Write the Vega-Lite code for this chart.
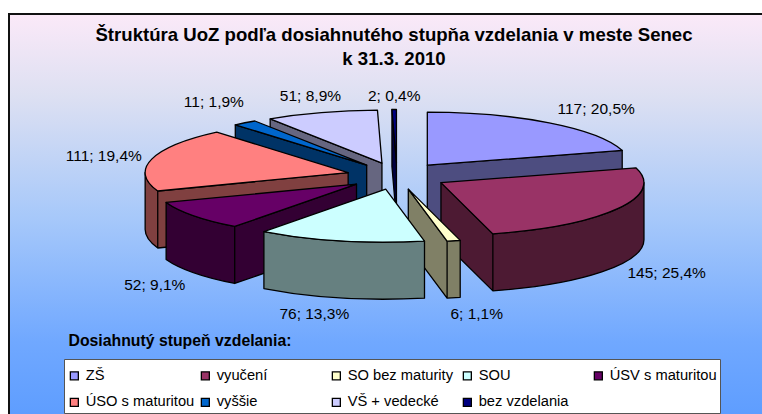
{
"$schema":"https://vega.github.io/schema/vega-lite/v6.json",
"width":762,"height":414,"padding":0,"autosize":"none","background":"white",
"view":{"stroke":null},
"title":{"text":["Štruktúra UoZ podľa dosiahnutého stupňa vzdelania v meste Senec","k 31.3. 2010"],"font":"Liberation Sans","fontSize":18.6,"fontWeight":"bold","color":"#000000","lineHeight":24,"anchor":"middle","frame":"group","dx":13,"dy":88,"baseline":"alphabetic"},
"datasets":{"slices":[
{"s":"ZŠ","v":117},{"s":"vyučení","v":145},{"s":"SO bez maturity","v":6},{"s":"SOU","v":76},{"s":"ÚSV s maturitou","v":52},{"s":"ÚSO s maturitou","v":111},{"s":"vyššie","v":11},{"s":"VŠ + vedecké","v":51},{"s":"bez vzdelania","v":2}]},
"layer":[
{"data":{"values":[{"a":9,"b":775,"c":14,"d":424}]},
 "mark":{"type":"rect","stroke":"#111111","strokeWidth":2,"color":{"gradient":"linear","x1":0,"y1":0,"x2":0,"y2":1,"stops":[{"offset":0,"color":"#FBE9F8"},{"offset":0.2,"color":"#DDE0F2"},{"offset":0.5,"color":"#A6C8FA"},{"offset":0.8,"color":"#70A8FF"},{"offset":1,"color":"#5C9CFF"}]}},
 "encoding":{
  "x":{"field":"a","type":"quantitative","scale":{"domain":[0,762],"nice":false,"zero":false},"axis":{"zindex":1,"domain":false,"ticks":false,"labels":false,"grid":false,"title":"Dosiahnutý stupeň vzdelania:","titleFont":"Liberation Sans","titleFontSize":15.8,"titleFontWeight":"bold","titleColor":"#000000","titleX":68,"titleY":-69,"titleAlign":"left","titleAnchor":"start","titleBaseline":"alphabetic"}},
  "x2":{"field":"b"},
  "y":{"field":"c","type":"quantitative","scale":{"domain":[0,414],"nice":false,"zero":false,"reverse":true},"axis":null},
  "y2":{"field":"d"}}},
{"data":{"name":"slices"},
 "transform":[
  {"window":[{"op":"sum","field":"v","as":"cum"}]},
  {"joinaggregate":[{"op":"sum","field":"v","as":"total"}]},
  {"calculate":"2*PI*(datum.cum-datum.v)/datum.total","as":"t1"},
  {"calculate":"2*PI*datum.cum/datum.total","as":"t2"},
  {"calculate":"(datum.t1+datum.t2)/2","as":"m"},
  {"calculate":"397+50.5*sin(datum.m)","as":"ax"},
  {"calculate":"176-13.5*cos(datum.m)","as":"ay"},
  {"calculate":"round(2030*sin(datum.t1))/10","as":"r1x"},
  {"calculate":"round(-530*cos(datum.t1))/10","as":"r1y"},
  {"calculate":"round(2030*sin(datum.t2))/10","as":"r2x"},
  {"calculate":"round(-530*cos(datum.t2))/10","as":"r2y"},
  {"calculate":"max(datum.t1,PI/2)","as":"b1"},
  {"calculate":"min(datum.t2,3*PI/2)","as":"b2"},
  {"calculate":"round(2030*sin(datum.b1))/10","as":"b1x"},
  {"calculate":"round(-530*cos(datum.b1))/10","as":"b1y"},
  {"calculate":"round(2030*sin(datum.b2))/10","as":"b2x"},
  {"calculate":"round(-530*cos(datum.b2))/10","as":"b2y"},
  {"calculate":"'M0,0L'+datum.r1x+','+datum.r1y+'A203,53,0,0,1,'+datum.r2x+','+datum.r2y+'Z'","as":"topPath"},
  {"calculate":"(datum.b1<datum.b2?'M'+datum.b1x+','+datum.b1y+'A203,53,0,0,1,'+datum.b2x+','+datum.b2y+'L'+datum.b2x+','+(datum.b2y+57)+'A203,53,0,0,0,'+datum.b1x+','+(datum.b1y+57)+'Z':'')+(sin(datum.t1)<-0.001?'M0,0L'+datum.r1x+','+datum.r1y+'L'+datum.r1x+','+(datum.r1y+57)+'L0,57Z':'')+(sin(datum.t2)>0.001?'M0,0L'+datum.r2x+','+datum.r2y+'L'+datum.r2x+','+(datum.r2y+57)+'L0,57Z':'')","as":"wallPath"},
  {"calculate":"datum.ax+203*sin(datum.m)+{'ZŠ':47,'vyučení':49,'SO bez maturity':23,'SOU':-26,'ÚSV s maturitou':-39,'ÚSO s maturitou':-48,'vyššie':-31,'VŠ + vedecké':-11,'bez vzdelania':0}[datum.s]","as":"lx"},
  {"calculate":"datum.ay-53*cos(datum.m)+(cos(datum.m)<0?57:0)+{'ZŠ':-14,'vyučení':7,'SO bez maturity':16,'SOU':16,'ÚSV s maturitou':12,'ÚSO s maturitou':-3,'vyššie':-21,'VŠ + vedecké':-17,'bez vzdelania':-14}[datum.s]","as":"ly"},
  {"calculate":"datum.v+'; '+replace(format(100*datum.v/datum.total,'.1f'),'.',',')+'%'","as":"label"}
 ],
 "layer":[
  {"mark":{"type":"point","filled":true,"opacity":1,"size":4,"stroke":"#000000","strokeWidth":1.3,"strokeJoin":"round"},
   "encoding":{
    "x":{"field":"ax","type":"quantitative","scale":{"domain":[0,762],"nice":false,"zero":false}},
    "y":{"field":"ay","type":"quantitative","scale":{"domain":[0,414],"nice":false,"zero":false,"reverse":true},"axis":null},
    "shape":{"field":"wallPath","type":"nominal","scale":null,"legend":null},
    "fill":{"field":"s","type":"nominal","legend":null,"scale":{"domain":["bez vzdelania","ZŠ","vyučení","SO bez maturity","SOU","ÚSV s maturitou","ÚSO s maturitou","vyššie","VŠ + vedecké"],"range":["#000040","#4D4D80","#4D1A33","#808066","#668080","#330033","#804040","#003366","#666680"]}},
    "order":{"field":"ay","type":"quantitative"}}},
  {"mark":{"type":"point","filled":true,"opacity":1,"size":4,"stroke":"#000000","strokeWidth":1.3,"strokeJoin":"round"},
   "encoding":{
    "x":{"field":"ax","type":"quantitative","scale":{"domain":[0,762],"nice":false,"zero":false}},
    "y":{"field":"ay","type":"quantitative","scale":{"domain":[0,414],"nice":false,"zero":false,"reverse":true},"axis":null},
    "shape":{"field":"topPath","type":"nominal","scale":null,"legend":null},
    "color":{"field":"s","type":"nominal","sort":null,"scale":{"domain":["ZŠ","vyučení","SO bez maturity","SOU","ÚSV s maturitou","ÚSO s maturitou","vyššie","VŠ + vedecké","bez vzdelania"],"range":["#9999FF","#993366","#FFFFCC","#CCFFFF","#660066","#FF8080","#0066CC","#CCCCFF","#000080"]},
     "legend":{"values":["ZŠ","ÚSO s maturitou","vyučení","vyššie","SO bez maturity","VŠ + vedecké","SOU","bez vzdelania","ÚSV s maturitou"],"zindex":1,"orient":"none","legendX":64,"legendY":359,"title":" ","titleFontSize":6,"titlePadding":0,"columns":5,"gridAlign":"all","columnPadding":3,"rowPadding":11,"padding":3,"fillColor":"#FFFFFF","strokeColor":"#555555","symbolType":"square","symbolSize":64,"symbolStrokeColor":"#000000","symbolStrokeWidth":1.3,"symbolOpacity":1,"labelFont":"Liberation Sans","labelFontSize":14.7,"labelColor":"#000000","labelLimit":300,"labelOffset":4}}}},
  {"mark":{"type":"text","font":"Liberation Sans","fontSize":15.5,"color":"#000000","align":"center","baseline":"middle"},
   "encoding":{
    "x":{"field":"lx","type":"quantitative","scale":{"domain":[0,762],"nice":false,"zero":false}},
    "y":{"field":"ly","type":"quantitative","scale":{"domain":[0,414],"nice":false,"zero":false,"reverse":true},"axis":null},
    "text":{"field":"label","type":"nominal"}}}
 ]}
]}
